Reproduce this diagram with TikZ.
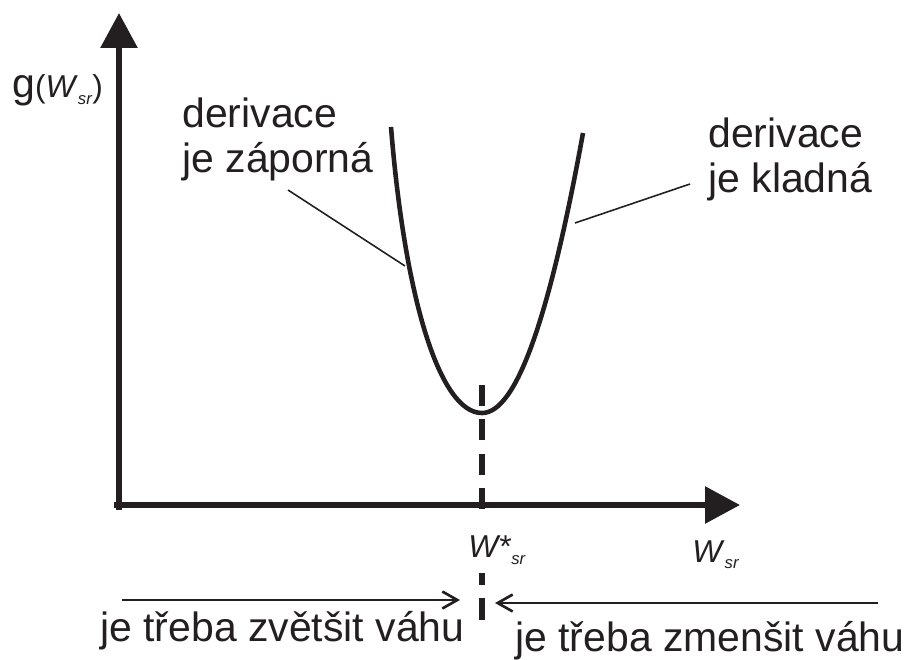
\documentclass[tikz,border=0pt]{standalone}
\usepackage{fontspec}
\setmainfont{Liberation Sans}
\usetikzlibrary{arrows.meta}

\definecolor{ink}{HTML}{231F20}
\newcommand\labfont{\fontsize{23.3pt}{25.6pt}\selectfont}
\newcommand\symfont{\fontsize{18pt}{20pt}\selectfont}
\newcommand\subfont{\fontsize{9.5pt}{10pt}\selectfont}

\begin{document}
\begin{tikzpicture}[x=0.02cm, y=-0.02cm, ink,
    axis/.style={line width=3.4pt, -{Triangle[length=0.7cm,width=0.72cm]}},
    curve/.style={line width=2.6pt},
    optline/.style={line width=3.1pt},
    pointer/.style={line width=0.9pt},
    pusharrow/.style={line width=1.5pt, -{Straight Barb[length=0.3cm,width=0.34cm]}},
    lab/.style={inner sep=0pt, anchor=base west, font=\labfont, align=left}]
    \useasboundingbox (0,0) rectangle (909,659);

    % Axes
    \coordinate (corner) at (119,505);
    \coordinate (ytip) at (119,13);
    \coordinate (xtip) at (740,505);
    \draw[axis] ([yshift=-3]corner) -- (ytip);
    \draw[axis] ([xshift=-3]corner) -- (xtip);

    % Cost function
    \coordinate (ltop) at (391,127);
    \coordinate (bottom) at (482,413);
    \coordinate (rtop) at (583,133);
    \draw[curve] (ltop) .. controls (405,300) and (440,413) .. (bottom)
                        .. controls (516,413) and (549,320) .. (rtop);

    % Optimum
    \draw[optline, dash pattern=on 12pt off 7.5pt] (482,385) -- (482,513);
    \draw[optline, dash pattern=on 6.8pt off 7.4pt on 12.5pt off 20pt] (482,573) -- (482,620);

    % Axis labels
    \node[lab] (glab) at (12,97) {g{\symfont(\textit{W}\raisebox{-4pt}{\subfont\textit{sr}})}};
    \node[lab, font=\symfont] (wopt) at (468,557) {\textit{W*}\raisebox{-4.5pt}{\subfont\textit{sr}}};
    \node[lab, font=\symfont] (wlab) at (692,562) {\textit{W}\raisebox{-3.5pt}{\subfont\textit{sr}}};

    % Slopes
    \node[lab] (neg) at (182,172) {derivace\\je záporná};
    \node[lab] (pos) at (708,192) {derivace\\je kladná};
    \coordinate (negfoot) at (288,190);
    \coordinate (negtouch) at (405,266);
    \coordinate (posfoot) at (690,184);
    \coordinate (postouch) at (575,223);
    \draw[pointer] (negfoot) -- (negtouch);
    \draw[pointer] (posfoot) -- (postouch);

    % Weight update
    \coordinate (incfrom) at (122,600);
    \coordinate (incto) at (460,600);
    \coordinate (decfrom) at (878,603);
    \coordinate (decto) at (495,603);
    \draw[pusharrow] (incfrom) -- (incto);
    \draw[pusharrow] (decfrom) -- (decto);
    \node[lab] (inc) at (100,641) {je třeba zvětšit váhu};
    \node[lab] (dec) at (515,651) {je třeba zmenšit váhu};
\end{tikzpicture}
\end{document}
